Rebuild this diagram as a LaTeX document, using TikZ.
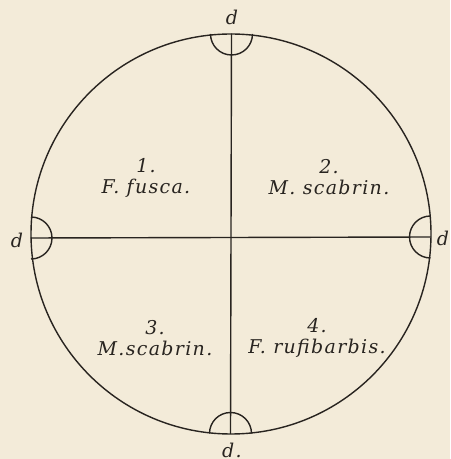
\documentclass[tikz,border=0pt]{standalone}
\usepackage{fontspec}
\usepackage[dvipsnames]{xcolor}
\usepackage{tikz}
\usepackage{tkz-euclide}
\newfontfamily\platefont[LetterSpace=7]{DejaVu Serif}
\definecolor{paper}{RGB}{243,235,217}
\definecolor{ink}{RGB}{40,36,32}
\tikzset{
  nest/.style={font=\platefont\itshape\fontsize{10.8}{11.5}\selectfont, align=center, text=ink, inner sep=1pt},
  cell/.style={line width=0.8pt, draw=ink}
}

\begin{document}
\begin{tikzpicture}
  \fill[paper] (0,0) rectangle (9,9.18);
  \useasboundingbox (0,0) rectangle (9,9.18);
  \tkzDefPoint(4.62,4.50){O}
  \tkzDefPoint(4.63,8.50){T}
  \tkzDefPoint(4.61,0.51){B}
  \tkzDefPoint(0.62,4.42){L}
  \tkzDefPoint(8.61,4.44){R}
  \draw[cell] (O) circle (4.0);
  \tkzDrawSegment[cell](T,B)
  \tkzDrawSegment[cell](L,R)
  % the four doors
  \draw[cell] ([xshift=-0.42cm]T) arc[start angle=180,end angle=360,radius=0.42];
  \draw[cell] ([xshift=0.42cm]B) arc[start angle=0,end angle=180,radius=0.42];
  \draw[cell] ([yshift=0.42cm]L) arc[start angle=90,end angle=-90,radius=0.42];
  \draw[cell] ([yshift=0.42cm]R) arc[start angle=90,end angle=270,radius=0.42];
  \node[nest] (dT) at (4.64,8.84) {d};
  \node[nest] (dL) at (0.34,4.38) {d};
  \node[nest] (dR) at (8.86,4.42) {d};
  \node[nest] (dB) at (4.64,0.18) {d.};
  % the four chambers
  \node[nest] (c1) at (2.92,5.62) {1.\\ F. fusca.};
  \node[nest] (c2) at (6.58,5.64) {2.\\ M. scabrin.};
  \node[nest] (c3) at (3.10,2.42) {3.\\ M.scabrin.};
  \node[nest] (c4) at (6.34,2.42) {4.\\ F. rufibarbis.};
\end{tikzpicture}
\end{document}
